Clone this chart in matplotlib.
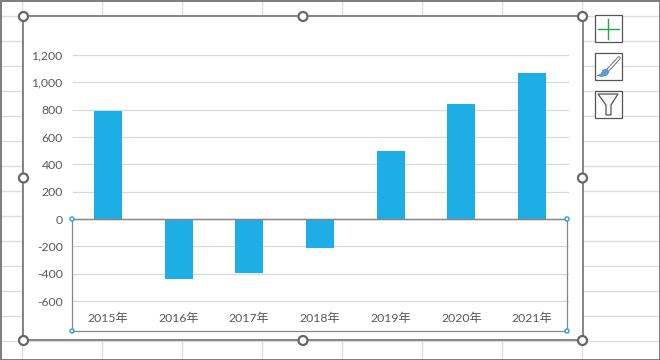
#!/usr/bin/env python3
import matplotlib
matplotlib.use('Agg')
import matplotlib.pyplot as plt
from matplotlib.patches import Rectangle, Circle, Polygon

plt.rcParams['font.family'] = ['Lato', 'Noto Sans CJK JP', 'DejaVu Sans']

years = ['2015年', '2016年', '2017年', '2018年', '2019年', '2020年', '2021年']
values = [791, -440, -395, -212, 498, 842, 1070]
yticks = [-600, -400, -200, 0, 200, 400, 600, 800, 1000, 1200]

W, H = 660, 360
text_col = '#595959'
frame_col = '#666666'

fig = plt.figure(figsize=(W / 100, H / 100), dpi=100, facecolor='white')

# Spreadsheet behind the chart, in pixel coordinates
bg = fig.add_axes([0, 0, 1, 1], zorder=0)
bg.set_xlim(0, W)
bg.set_ylim(H, 0)
bg.axis('off')
for y in range(16, 350, 25):
    bg.plot([0, W], [y, y], color='#dddddd', lw=1, zorder=1)
for x in [22, 102, 182, 262, 342, 422, 502, 582]:
    bg.plot([x, x], [0, H], color='#dddddd', lw=1, zorder=1)
bg.add_patch(Rectangle((0.5, 0.5), W - 1, H - 1, fc='none', ec=frame_col, lw=1.2, zorder=3))
bg.add_patch(Rectangle((23, 16), 559.5, 324, fc='white', ec=frame_col, lw=1.1, zorder=2))

# The chart itself
left, right, top, bottom = 72.5, 567.5, 55, 301
ax = fig.add_axes([left / W, 1 - bottom / H, (right - left) / W, (bottom - top) / H], zorder=1)
ax.patch.set_alpha(0)
ax.bar(years, values, width=0.395, color='#1caee4', zorder=3)
ax.set_xlim(-0.5, 6.5)
ax.set_ylim(-600, 1200)
ax.set_yticks(yticks)
ax.set_yticklabels([f'{v:,}' for v in yticks])
ax.grid(axis='y', color='#d9d9d9', lw=0.9, zorder=0, clip_on=False)
ax.axhline(0, color='#808080', lw=0.9, zorder=4)
for s in ax.spines.values():
    s.set_visible(False)
ax.tick_params(axis='both', length=0, labelsize=8.8, labelcolor=text_col)
ax.tick_params(axis='x', pad=8)
ax.tick_params(axis='y', pad=7)

# Selection overlay, in pixel coordinates
ov = fig.add_axes([0, 0, 1, 1], zorder=2)
ov.set_xlim(0, W)
ov.set_ylim(H, 0)
ov.axis('off')
ov.patch.set_alpha(0)
ov.plot([72, 72, 567, 567, 72], [219, 331, 331, 219, 219], color='#888888', lw=0.9)
for x, y in [(72, 219), (567, 219), (72, 331), (567, 331)]:
    ov.add_patch(Circle((x, y), 2, fc='white', ec='#2e9be6', lw=1, zorder=5))
for x in [23.5, 303, 582.5]:
    for y in [16.5, 178, 340.5]:
        if x == 303 and y == 178:
            continue
        ov.add_patch(Circle((x, y), 4.5, fc='white', ec=frame_col, lw=1.6, zorder=5))

# Buttons on the right
for y in [15, 53, 91]:
    ov.add_patch(Rectangle((595, y), 27, 27, fc='white', ec='#555555', lw=0.9))
ov.plot([598, 619], [28.5, 28.5], color='#21a649', lw=1)
ov.plot([608, 608], [18.5, 38.5], color='#21a649', lw=1)
ov.plot([607, 619], [71, 58], color='#6e6e6e', lw=2.6, solid_capstyle='round')
ov.plot([607, 619], [71, 58], color='white', lw=1.2, solid_capstyle='round')
ov.add_patch(Polygon([(597, 75.5), (601, 74), (603, 70), (607, 69), (609, 72), (607, 75), (602, 76.5)],
                     fc='#5b9bd5', ec='#4a8cd0', lw=0.5, zorder=4))
ov.add_patch(Polygon([(598, 94), (618, 94), (611, 105), (611, 115), (606, 115), (606, 105)],
                     fc='#f7f7f7', ec='#555555', lw=0.9))

fig.savefig('out.png', dpi=100)
